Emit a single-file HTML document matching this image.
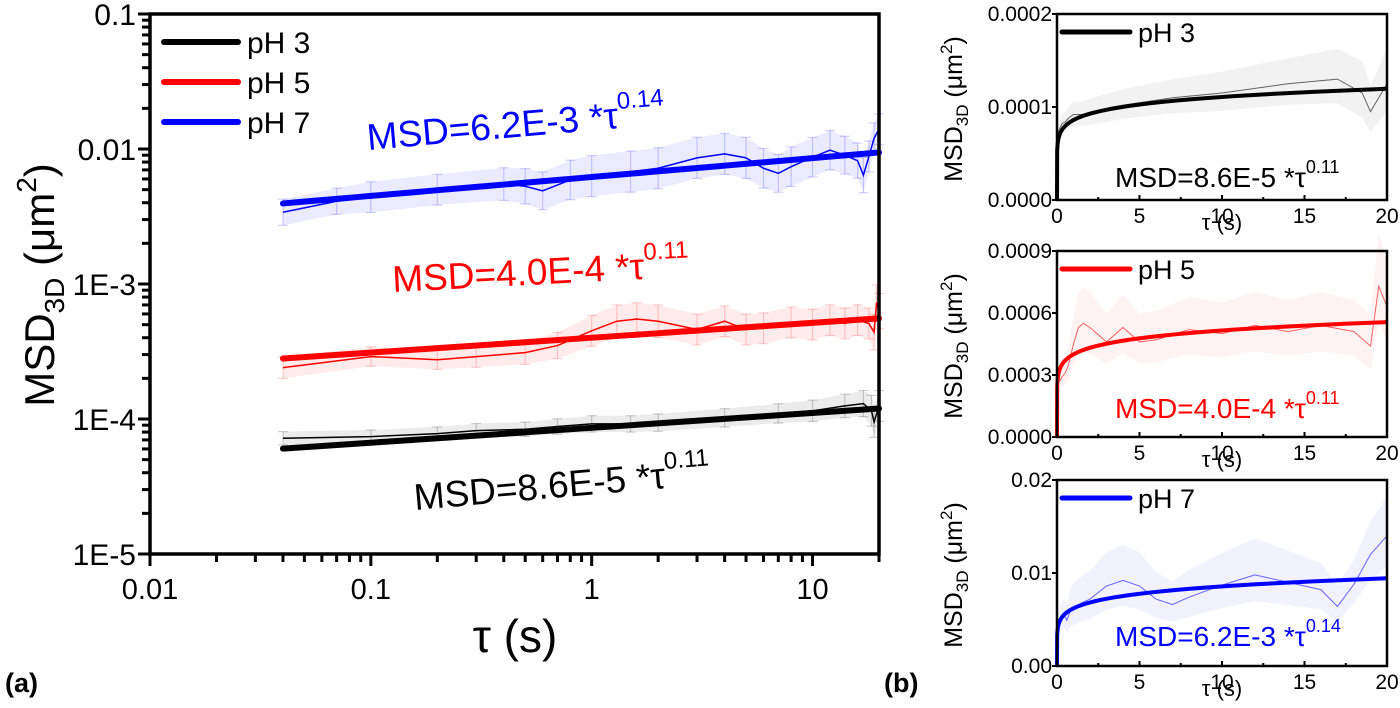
<!DOCTYPE html>
<html><head><meta charset="utf-8"><style>
html,body{margin:0;padding:0;background:#fff}
svg{display:block;font-family:"Liberation Sans",Arial,sans-serif}
</style></head><body>
<svg id="fig" width="1400" height="708" viewBox="0 0 1400 708" xmlns="http://www.w3.org/2000/svg">
<g id="main"></g>
<g id="p1"></g>
<g id="p2"></g>
<g id="p3"></g>
<text x="5" y="692" font-size="27" font-weight="bold">(a)</text>
<text x="884" y="692" font-size="27" font-weight="bold">(b)</text>
</svg>
<script>
// ----- data -----
const seriesNames = ["pH 3","pH 5","pH 7"];
const seriesColors = ["#000000","#ff0000","#0000ff"];
const fitA = [8.6e-5, 4.0e-4, 6.2e-3];
const fitB = [0.11, 0.11, 0.14];
const tau3 = [0.04,0.1,0.2,0.3,0.5,0.7,1,1.5,2,4,7,10,14,17,18.5,19,20];
const msd3 = [7.2e-5,7.4e-5,7.8e-5,8.2e-5,8.4e-5,8.8e-5,9.2e-5,9.2e-5,9.4e-5,1.02e-4,1.1e-4,1.15e-4,1.25e-4,1.3e-4,1.15e-4,9.5e-5,1.25e-4];
const err3 = [0.12,0.12,0.12,0.13,0.13,0.14,0.15,0.15,0.16,0.17,0.18,0.2,0.22,0.25,0.3,0.3,0.3];
const tau5 = [0.04,0.1,0.2,0.3,0.5,0.7,1,1.3,1.6,2,3,4,5,6,8,10,12,14,16,18,19,19.5,20];
const msd5 = [2.4e-4,2.9e-4,2.75e-4,2.9e-4,3.1e-4,3.5e-4,4.5e-4,5.3e-4,5.5e-4,5.3e-4,4.6e-4,5.3e-4,4.6e-4,4.7e-4,5.2e-4,5.0e-4,5.4e-4,5.1e-4,5.4e-4,5.1e-4,4.4e-4,7.3e-4,6.3e-4];
const err5 = [0.2,0.18,0.18,0.2,0.22,0.25,0.3,0.32,0.32,0.32,0.3,0.3,0.3,0.3,0.3,0.3,0.3,0.3,0.3,0.3,0.35,0.35,0.35];
const tau7 = [0.04,0.07,0.1,0.2,0.4,0.5,0.6,0.8,1,1.5,2,3,4,5,6,7,8,10,12,14,16,17,18,19,20];
const msd7 = [3.4e-3,4.1e-3,4.4e-3,5.0e-3,5.5e-3,5.3e-3,4.9e-3,5.9e-3,6.3e-3,6.8e-3,7.2e-3,8.6e-3,9.2e-3,8.6e-3,7.2e-3,6.6e-3,7.4e-3,8.7e-3,9.8e-3,9.0e-3,8.2e-3,6.4e-3,8.8e-3,1.2e-2,1.4e-2];
const err7 = [0.25,0.25,0.3,0.3,0.32,0.35,0.38,0.4,0.42,0.42,0.42,0.42,0.42,0.42,0.4,0.38,0.4,0.4,0.4,0.38,0.35,0.35,0.3,0.3,0.3];
const xTickLabels = ["0.01","0.1","1","10"];
const xTickVals = [0.01,0.1,1,10];
const yTickLabels = ["1E-5","1E-4","1E-3","0.01","0.1"];
const yTickVals = [1e-5,1e-4,1e-3,1e-2,1e-1];
const panelYMax = [0.0002, 0.0009, 0.02];
const panelYTicks = [[0,0.0001,0.0002],[0,0.0003,0.0006,0.0009],[0,0.01,0.02]];
const panelYLabels = [["0.0000","0.0001","0.0002"],["0.0000","0.0003","0.0006","0.0009"],["0.00","0.01","0.02"]];
const panelXTicks = [0,5,10,15,20];
const fitLabels = ["MSD=8.6E-5 *τ","MSD=4.0E-4 *τ","MSD=6.2E-3 *τ"];
const fitExp = ["0.11","0.11","0.14"];

const TAU=[tau3,tau5,tau7], MSD=[msd3,msd5,msd7], ERR=[err3,err5,err7];
const NS="http://www.w3.org/2000/svg";
function mk(parent, tag, attrs){const e=document.createElementNS(NS,tag);for(const k in attrs)e.setAttribute(k,attrs[k]);parent.appendChild(e);return e;}

// ----- main chart -----
const M={x0:150,x1:879,y0:14,y1:554};
const lx=v=>M.x0+(Math.log10(v)+2)/(Math.log10(20)+2)*(M.x1-M.x0);
const ly=v=>M.y0+(-1-Math.log10(v))/4*(M.y1-M.y0);
const g=document.getElementById('main');
for(let s=0;s<3;s++){
  const eg=mk(g,'g',{});
  
  
  const t=TAU[s],m=MSD[s],er=ERR[s];
  for(let i=0;i<t.length;i++){
    const xa=lx(t[i]), ya=ly(m[i]*(1+er[i])), yb=ly(m[i]/(1+er[i]));
    mk(eg,'line',{x1:xa,x2:xa,y1:ya,y2:yb,stroke:seriesColors[s],'stroke-opacity':0.18,'stroke-width':1.2});
    mk(eg,'line',{x1:xa-5,x2:xa+5,y1:ya,y2:ya,stroke:seriesColors[s],'stroke-opacity':0.18,'stroke-width':1.2});
    mk(eg,'line',{x1:xa-5,x2:xa+5,y1:yb,y2:yb,stroke:seriesColors[s],'stroke-opacity':0.18,'stroke-width':1.2});
  }
  let pts=[];
  for(let i=0;i<t.length;i++)pts.push(lx(t[i])+','+ly(m[i]*(1+er[i])));
  for(let i=t.length-1;i>=0;i--)pts.push(lx(t[i])+','+ly(m[i]/(1+er[i])));
  const band=mk(g,'polygon',{points:pts.join(' '),fill:seriesColors[s],'fill-opacity':0.08});
  
  
  const dl=mk(g,'polyline',{points:t.map((v,i)=>lx(v)+','+ly(m[i])).join(' '),fill:'none',stroke:seriesColors[s],'stroke-width':1.5});
  
  
  const fp=[];
  for(let k=0;k<=40;k++){const tt=0.04*Math.pow(20/0.04,k/40);fp.push(lx(tt)+','+ly(fitA[s]*Math.pow(tt,fitB[s])));}
  const fl=mk(g,'polyline',{points:fp.join(' '),fill:'none',stroke:seriesColors[s],'stroke-width':6,'stroke-linecap':'round'});
  
  
}
const fr=mk(g,'rect',{x:M.x0,y:M.y0,width:M.x1-M.x0,height:M.y1-M.y0,fill:'none',stroke:'#000','stroke-width':3.5});


for(let d=-2;d<=1;d++){for(let k=1;k<=9;k++){const v=k*Math.pow(10,d);if(v>20)break;const x=lx(v);mk(g,'line',{x1:x,x2:x,y1:M.y1,y2:M.y1+(k==1?12:8),stroke:'#000','stroke-width':3});}}
for(let i=0;i<xTickVals.length;i++){const t=mk(g,'text',{x:lx(xTickVals[i]),y:M.y1+45,'font-size':29,'text-anchor':'middle'});t.textContent=xTickLabels[i];
  
  }
for(let d=-5;d<=-2;d++){for(let k=1;k<=9;k++){const v=k*Math.pow(10,d);const y=ly(v);mk(g,'line',{x1:M.x0-(k==1?12:8),x2:M.x0,y1:y,y2:y,stroke:'#000','stroke-width':3});}}
mk(g,'line',{x1:M.x0-12,x2:M.x0,y1:ly(0.1),y2:ly(0.1),stroke:'#000','stroke-width':3});
for(let i=0;i<yTickVals.length;i++){const t=mk(g,'text',{x:M.x0-14,y:ly(yTickVals[i])+11,'font-size':30,'text-anchor':'end'});t.textContent=yTickLabels[i];
  
  }
const xt=mk(g,'text',{x:515,y:652,'font-size':46,'text-anchor':'middle'});xt.innerHTML='τ (s)';


const yt=mk(g,'text',{x:0,y:0,'font-size':42,'text-anchor':'middle',transform:'translate(54,285) rotate(-90)'});
yt.innerHTML='MSD<tspan font-size="28" dy="10">3D</tspan><tspan dy="-10"> (μm</tspan><tspan font-size="28" dy="-18">2</tspan><tspan dy="18">)</tspan>';


for(let s=0;s<3;s++){const lg=mk(g,'g',{});
  
  
  const y=42+s*40;mk(lg,'line',{x1:164,x2:238,y1:y,y2:y,stroke:seriesColors[s],'stroke-width':6,'stroke-linecap':'round'});
  const t=mk(lg,'text',{x:247,y:y+11,'font-size':30});t.textContent=seriesNames[s];}
const annPos=[[415,510,-5],[393,292,-3],[368,150,-5]];
for(let s=0;s<3;s++){const a=mk(g,'text',{x:annPos[s][0],y:annPos[s][1],'font-size':37,fill:seriesColors[s],transform:`rotate(${annPos[s][2]} ${annPos[s][0]} ${annPos[s][1]})`});
  a.innerHTML=fitLabels[s]+'<tspan font-size="24" dy="-19">'+fitExp[s]+'</tspan>';
  
  }

// ----- right panels -----
const tops=[14,251,480];
const annY=[187,418,646];
for(let s=0;s<3;s++){
  const p=document.getElementById('p'+(s+1));
  const P={x0:1057,x1:1387,y0:tops[s],y1:tops[s]+186};
  const px=v=>P.x0+v/20*(P.x1-P.x0);
  const py=v=>P.y1-v/panelYMax[s]*(P.y1-P.y0);
  const t=TAU[s],m=MSD[s],er=ERR[s];
  let pts=[];
  for(let i=0;i<t.length;i++)pts.push(px(t[i])+','+py(m[i]*(1+er[i])));
  for(let i=t.length-1;i>=0;i--)pts.push(px(t[i])+','+py(m[i]/(1+er[i])));
  const band=mk(p,'polygon',{points:pts.join(' '),fill:seriesColors[s],'fill-opacity':0.05});
  
  
  const dl=mk(p,'polyline',{points:t.map((v,i)=>px(v)+','+py(m[i])).join(' '),fill:'none',stroke:seriesColors[s],'stroke-opacity':0.6,'stroke-width':1});
  
  
  const fp=[px(0)+','+py(0)];
  for(let k=0;k<=60;k++){const tt=0.01*Math.pow(2000,k/60);fp.push(px(tt)+','+py(fitA[s]*Math.pow(tt,fitB[s])));}
  const fl=mk(p,'polyline',{points:fp.join(' '),fill:'none',stroke:seriesColors[s],'stroke-width':4});
  
  
  const f=mk(p,'rect',{x:P.x0,y:P.y0,width:P.x1-P.x0,height:P.y1-P.y0,fill:'none',stroke:'#000','stroke-width':2.5});
  
  
  for(let i=0;i<=8;i++){const x=px(i*2.5);mk(p,'line',{x1:x,x2:x,y1:P.y1,y2:P.y1-(i%2?3:5),stroke:'#000','stroke-width':2});}
  for(const v of panelXTicks){const tx=mk(p,'text',{x:px(v),y:P.y1+23,'font-size':21,'text-anchor':'middle'});tx.textContent=String(v);
    
    }
  const yt=panelYTicks[s];
  for(let i=0;i<yt.length;i++){const y=py(yt[i]);mk(p,'line',{x1:P.x0-5,x2:P.x0,y1:y,y2:y,stroke:'#000','stroke-width':2});
    const tx=mk(p,'text',{x:P.x0-5,y:y+7,'font-size':21,'text-anchor':'end'});tx.textContent=panelYLabels[s][i];
    
    }
  const xt=mk(p,'text',{x:1222,y:P.y1+30,'font-size':22,'text-anchor':'middle'});xt.textContent='τ (s)';
  
  
  const ytl=mk(p,'text',{x:0,y:0,'font-size':25,'text-anchor':'middle',transform:`translate(962,${P.y0+95}) rotate(-90)`});
  ytl.innerHTML='MSD<tspan font-size="17" dy="6">3D</tspan><tspan dy="-6"> (μm</tspan><tspan font-size="17" dy="-10">2</tspan><tspan dy="10">)</tspan>';
  
  
  const lg=mk(p,'g',{});
  
  
  mk(lg,'line',{x1:1062,x2:1130,y1:P.y0+18,y2:P.y0+18,stroke:seriesColors[s],'stroke-width':5,'stroke-linecap':'round'});
  const lt=mk(lg,'text',{x:1138,y:P.y0+28,'font-size':27});lt.textContent=seriesNames[s];
  const an=mk(p,'text',{x:1115,y:annY[s],'font-size':28,fill:seriesColors[s]});
  an.innerHTML=fitLabels[s]+'<tspan font-size="18" dy="-14">'+fitExp[s]+'</tspan>';
  
  
}
</script>
</body></html>
